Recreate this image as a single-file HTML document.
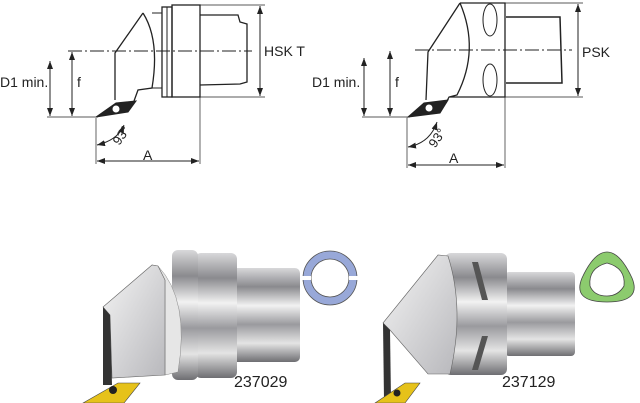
<!DOCTYPE html>
<html><head><meta charset="utf-8"><style>
html,body{margin:0;padding:0;background:#fff;width:640px;height:403px;overflow:hidden}
svg{display:block}
text{font-family:"Liberation Sans",sans-serif;fill:#222}
</style></head><body>
<svg width="640" height="403" viewBox="0 0 640 403" xmlns="http://www.w3.org/2000/svg">
<defs>
<marker id="ar" markerWidth="8" markerHeight="6" refX="8" refY="3" orient="auto-start-reverse" markerUnits="userSpaceOnUse"><path d="M0,0 L8,3 L0,6 z" fill="#222"/></marker>
<linearGradient id="cyl" x1="0" y1="0" x2="0" y2="1">
<stop offset="0" stop-color="#d8d8da"/><stop offset="0.2" stop-color="#8a8a8e"/><stop offset="0.4" stop-color="#f2f2f2"/><stop offset="0.6" stop-color="#9a9a9e"/><stop offset="0.8" stop-color="#e4e4e4"/><stop offset="1" stop-color="#6e6e72"/></linearGradient>
<linearGradient id="blk" x1="0" y1="0" x2="1" y2="1"><stop offset="0" stop-color="#f4f4f4"/><stop offset="1" stop-color="#b8b8bc"/></linearGradient>
</defs>
<g stroke="#222" fill="none" stroke-width="1">
<line x1="68" y1="51" x2="252" y2="51" stroke-dasharray="14,3,2,3"/>
<line x1="195" y1="5" x2="265" y2="5" stroke-width="0.7"/>
<line x1="195" y1="97" x2="265" y2="97" stroke-width="0.7"/>
<line x1="260" y1="6" x2="260" y2="96" marker-start="url(#ar)" marker-end="url(#ar)"/>
<path d="M143,13 L115,53 L115,100 M143,13 Q160,40 152,88 L138,90 L134,101" stroke-width="1.3"/>
<path d="M152,13 L162,13 M152,88 L162,88"/>
<rect x="162" y="7" width="10" height="90" stroke-width="1.3"/>
<rect x="172" y="5" width="28" height="92" stroke-width="1.3"/>
<line x1="167" y1="7" x2="167" y2="97"/>
<path d="M200,15 L238,15 L240,22 L247,24 L247,82 L240,84 L200,85" stroke-width="1.3"/>
<path d="M96,117 L116,103 L136,101 L128,112 Z" fill="#222"/>
<circle cx="116" cy="109" r="4" fill="#fff"/>
<line x1="47" y1="117" x2="98" y2="117" stroke-width="0.7"/>
<line x1="50" y1="61" x2="50" y2="116" marker-start="url(#ar)" marker-end="url(#ar)"/>
<line x1="72" y1="52" x2="72" y2="116" marker-start="url(#ar)" marker-end="url(#ar)"/>
<line x1="96" y1="118" x2="96" y2="164" stroke-width="0.7"/>
<line x1="200" y1="97" x2="200" y2="164" stroke-width="0.7"/>
<line x1="97" y1="161" x2="199" y2="161" marker-start="url(#ar)" marker-end="url(#ar)"/>
<path d="M97,145 Q118,140 124,125" marker-start="url(#ar)" marker-end="url(#ar)"/>
<line x1="415" y1="50" x2="572" y2="50" stroke-dasharray="14,3,2,3"/>
<line x1="505" y1="3" x2="583" y2="3" stroke-width="0.7"/>
<line x1="505" y1="97" x2="583" y2="97" stroke-width="0.7"/>
<line x1="578" y1="4" x2="578" y2="96" marker-start="url(#ar)" marker-end="url(#ar)"/>
<path d="M460,3 L505,3 L505,97 L449,97 M460,3 L428,52 L426,100 M460,3 Q480,50 457,95 L449,97 L446,103" stroke-width="1.3"/>
<path d="M506,17 L560,17 L562,83 L506,83" stroke-width="1.5"/>
<ellipse cx="490" cy="20" rx="7" ry="16"/>
<ellipse cx="490" cy="80" rx="7" ry="16"/>
<path d="M408,117 L424,103 L448,100 L440,113 Z" fill="#222"/>
<circle cx="429" cy="108" r="4" fill="#fff"/>
<line x1="362" y1="117" x2="410" y2="117" stroke-width="0.7"/>
<line x1="364" y1="58" x2="364" y2="116" marker-start="url(#ar)" marker-end="url(#ar)"/>
<line x1="390" y1="51" x2="390" y2="116" marker-start="url(#ar)" marker-end="url(#ar)"/>
<line x1="407" y1="118" x2="407" y2="168" stroke-width="0.7"/>
<line x1="505" y1="97" x2="505" y2="168" stroke-width="0.7"/>
<line x1="408" y1="165" x2="504" y2="165" marker-start="url(#ar)" marker-end="url(#ar)"/>
<path d="M408,147 Q430,143 437,122" marker-start="url(#ar)" marker-end="url(#ar)"/>
</g>
<text x="264" y="56" font-size="14">HSK T</text>
<text x="0" y="87" font-size="14">D1 min.</text>
<text x="77" y="87" font-size="14">f</text>
<text x="143" y="160" font-size="14">A</text>
<text x="113" y="142" font-size="13" transform="rotate(-55 120 138)">93°</text>
<text x="582" y="57" font-size="14">PSK</text>
<text x="312" y="87" font-size="14">D1 min.</text>
<text x="395" y="87" font-size="14">f</text>
<text x="449" y="163" font-size="14">A</text>
<text x="428" y="145" font-size="13" transform="rotate(-55 435 140)">93°</text>
<rect x="232" y="268" width="68" height="94" fill="url(#cyl)" rx="5"/>
<rect x="195" y="253" width="42" height="125" fill="url(#cyl)" rx="6"/>
<rect x="172" y="250" width="26" height="130" fill="url(#cyl)" rx="6"/>
<path d="M152,265 L158,266 Q190,300 178,372 L165,375 L165,280 Z" fill="#e6e6e6" stroke="#888" stroke-width="0.5"/>
<path d="M103,307 L152,265 L158,266 L165,280 L165,375 L112,378 L110,315 Z" fill="url(#blk)" stroke="#666" stroke-width="0.6"/>
<path d="M103,307 L110,315 L112,385 L103,385 Z" fill="#333"/>
<path d="M83,403 L118,383 L140,383 L124,403 Z" fill="#e6c21a" stroke="#444" stroke-width="0.6"/>
<circle cx="113" cy="390" r="4" fill="#222"/>
<circle cx="330" cy="278" r="27" fill="#98a8d8" stroke="#555" stroke-width="0.8"/>
<circle cx="330" cy="278" r="19" fill="#fff" stroke="#555" stroke-width="0.8"/>
<rect x="301" y="276" width="10" height="4" fill="#fff"/><rect x="349" y="276" width="10" height="4" fill="#fff"/>
<text x="234" y="387" font-size="16">237029</text>
<rect x="505" y="272" width="70" height="84" fill="url(#cyl)" rx="4"/>
<rect x="445" y="253" width="62" height="122" fill="url(#cyl)" rx="6"/>
<path d="M472,262 L478,262 L488,300 L482,300 Z M472,370 L478,370 L488,336 L482,336 Z" fill="#555"/>
<path d="M383,323 L438,255 L448,256 Q465,310 450,374 L428,374 L390,330 Z" fill="url(#blk)" stroke="#666" stroke-width="0.6"/>
<path d="M383,323 L390,330 L391,400 L384,400 Z" fill="#333"/>
<path d="M375,403 L405,383 L420,383 L405,403 Z" fill="#e6c21a" stroke="#444" stroke-width="0.6"/>
<circle cx="397" cy="393" r="3.5" fill="#222"/>
<text x="502" y="387" font-size="16">237129</text>
<path d="M607,252 Q620,252 632,278 Q642,302 607,302 Q572,302 582,278 Q594,252 607,252 Z" fill="#8ccb6e" stroke="#444" stroke-width="0.8"/>
<path d="M607,263 Q626,268 624,286 Q618,296 607,296 Q594,296 590,286 Q588,268 607,263 Z" fill="#fff" stroke="#444" stroke-width="0.8"/>
</svg>
</body></html>
